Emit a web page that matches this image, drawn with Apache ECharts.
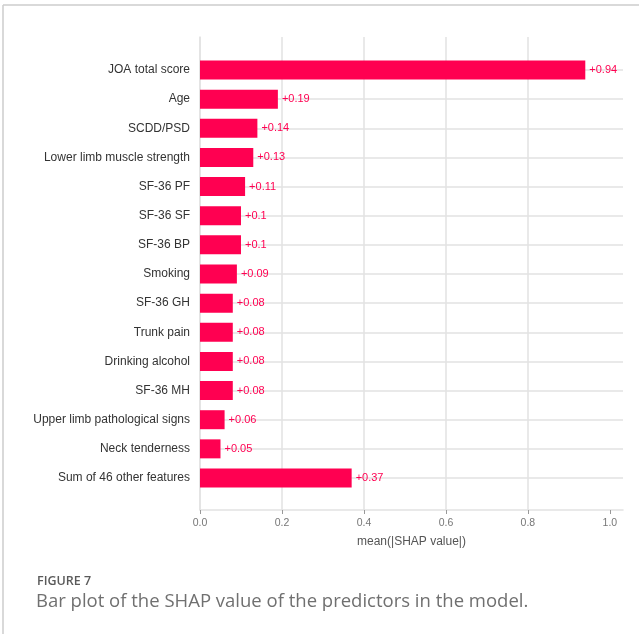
<!DOCTYPE html>
<html>
<head>
<meta charset="utf-8">
<script src="https://cdn.jsdelivr.net/npm/echarts@6/dist/echarts.min.js"></script>
<style>
  html, body { margin: 0; padding: 0; background: #fff; }
  #chart { width: 639px; height: 634px; }
</style>
</head>
<body>
<div id="chart"></div>
<script>
// Features ranked by mean absolute SHAP value
const features = [
  'JOA total score', 'Age', 'SCDD/PSD', 'Lower limb muscle strength',
  'SF-36 PF', 'SF-36 SF', 'SF-36 BP', 'Smoking', 'SF-36 GH', 'Trunk pain',
  'Drinking alcohol', 'SF-36 MH', 'Upper limb pathological signs',
  'Neck tenderness', 'Sum of 46 other features'
];
const shapValues = [0.94, 0.19, 0.14, 0.13, 0.11, 0.1, 0.1, 0.09, 0.08, 0.08, 0.08, 0.08, 0.06, 0.05, 0.37];
const xTicks = [0, 0.2, 0.4, 0.6, 0.8, 1.0];
const xMax = 1.032;

const barColor = '#ff0051';
const gridColor = '#e2e2e2';
const fontFamily = '"Liberation Sans", Arial, sans-serif';

const chart = echarts.init(document.getElementById('chart'));
chart.setOption({
  animation: false,
  backgroundColor: '#ffffff',
  title: [
    {
      text: 'FIGURE 7',
      left: 32, top: 570,
      textStyle: { fontFamily: 'Open Sans', fontSize: 12.5, fontWeight: 600, color: '#5a5a5a' }
    },
    {
      text: 'Bar plot of the SHAP value of the predictors in the model.',
      left: 31, top: 587,
      textStyle: { fontFamily: 'Open Sans', fontSize: 18.5, fontWeight: 'normal', color: '#707070' }
    }
  ],
  graphic: [
    { type: 'line', shape: { x1: 3, y1: 5, x2: 639, y2: 5 }, style: { stroke: '#cccccc', lineWidth: 1.5 } },
    { type: 'line', shape: { x1: 3, y1: 5, x2: 3, y2: 634 }, style: { stroke: '#cccccc', lineWidth: 1.5 } }
  ],
  grid: [
    { left: 200, right: 16, top: 37, bottom: 124 },
    { left: 200, right: 16, top: 70, bottom: 156 }
  ],
  xAxis: [
    {
      gridIndex: 0, type: 'value', min: 0, max: xMax, interval: 0.2,
      name: 'mean(|SHAP value|)', nameLocation: 'middle', nameGap: 26,
      nameTextStyle: { fontFamily: fontFamily, fontSize: 12, color: '#555' },
      axisLine: { show: true, lineStyle: { color: gridColor, width: 1.5 } },
      axisTick: { show: true, length: 4, customValues: xTicks, lineStyle: { color: '#999', width: 1 } },
      axisLabel: {
        customValues: xTicks, margin: 8,
        formatter: v => v.toFixed(1),
        fontFamily: fontFamily, fontSize: 10.5, color: '#777'
      },
      splitLine: { show: true, showMaxLine: false, lineStyle: { color: gridColor, width: 1.5 } }
    },
    { gridIndex: 1, type: 'value', min: 0, max: xMax, show: false }
  ],
  yAxis: [
    {
      gridIndex: 0, type: 'value', min: 0, max: 1,
      axisLine: { show: true, lineStyle: { color: gridColor, width: 1.5 } },
      axisTick: { show: false }, axisLabel: { show: false }, splitLine: { show: false }
    },
    {
      gridIndex: 1, type: 'category', data: features, inverse: true, boundaryGap: false,
      axisLine: { show: false }, axisTick: { show: false },
      axisLabel: { margin: 10, fontFamily: fontFamily, fontSize: 12, color: '#333' },
      splitLine: { show: true, lineStyle: { color: gridColor, width: 1.5 } }
    }
  ],
  series: [
    {
      type: 'bar', xAxisIndex: 1, yAxisIndex: 1,
      data: shapValues, barWidth: 19,
      itemStyle: { color: barColor },
      label: {
        show: true, position: 'right', distance: 4,
        formatter: p => '+' + p.value,
        fontFamily: fontFamily, fontSize: 11, color: barColor
      }
    }
  ]
});
</script>
</body>
</html>
